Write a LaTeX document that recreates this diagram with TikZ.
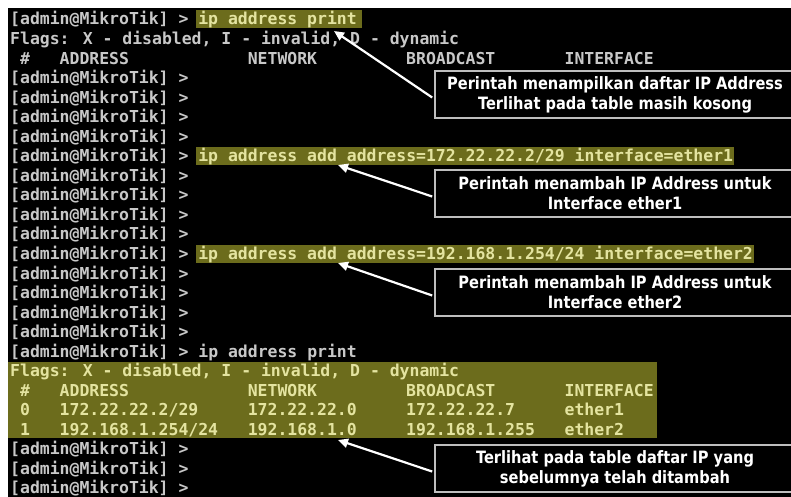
\documentclass[tikz,border=0pt]{standalone}
\usepackage{fontspec}
\usetikzlibrary{arrows.meta}
\newfontfamily\termfont{DejaVu Sans Mono}
\newfontfamily\notefont[FakeStretch=0.86]{DejaVu Sans}

\definecolor{termgrey}{RGB}{200,200,200}
\definecolor{hlfill}{RGB}{108,108,28}
\definecolor{hltext}{RGB}{228,228,160}
\definecolor{boxgrey}{RGB}{190,190,190}

% console grid: character width, left margin, baseline of line n
\newcommand\cw{9.9}
\newcommand\xo{10}
\newcommand\lny[1]{(25+(#1-1)*19.54)}
\newcommand\colx[1]{(\xo+#1*\cw)}

% a bare prompt on line #2
\newcommand\promptline[2]{\node[term] (#1) at (\xo,{\lny{#2}}) {[admin@MikroTik] >};}
% one row of the address table: name, line, colour, then the five fields
\newcommand\tablerow[8]{%
  \node[term,text=#3] (#1a) at ({\colx{1}},{\lny{#2}}) {#4};
  \node[term,text=#3] (#1b) at ({\colx{5}},{\lny{#2}}) {#5};
  \node[term,text=#3] (#1c) at ({\colx{24}},{\lny{#2}}) {#6};
  \node[term,text=#3] (#1d) at ({\colx{40}},{\lny{#2}}) {#7};
  \node[term,text=#3] (#1e) at ({\colx{56}},{\lny{#2}}) {#8};}

\tikzset{
  term/.style={anchor=base west, inner sep=0pt, text=termgrey,
    font={\termfont\bfseries\fontsize{16.45}{19.54}\selectfont}},
  hlcmd/.style={term, text=hltext},
  note/.style={draw=boxgrey, line width=1.6pt, fill=black, text=white,
    align=center, minimum width=360pt, minimum height=47pt, inner sep=0pt,
    font={\notefont\bfseries\fontsize{17}{20}\selectfont}},
  callarrow/.style={draw=white, line width=2.2pt,
    -{Triangle[length=10pt,width=9pt]}}
}

\begin{document}
\begin{tikzpicture}[x=1pt,y=-1pt]
\useasboundingbox (0,0) rectangle (791,497);
\clip (0,0) rectangle (791,497);
\fill[white] (0,0) rectangle (791,497);
\fill[black] (8,8) rectangle (800,500);

% highlighted commands and result table
\fill[hlfill] (196,10) rectangle (362,28);
\fill[hlfill] (196,147) rectangle (734,165);
\fill[hlfill] (196,244.5) rectangle (754,262.5);
\fill[hlfill] (8,361.7) rectangle (657,438.3);

% first listing: empty table
\promptline{l1}{1}
\node[hlcmd] (c1) at ({\colx{19}},{\lny{1}}) {ip address print};
\node[term] (l2) at (\xo,{\lny{2}}) {Flags: X - disabled, I - invalid, D - dynamic};
\tablerow{h1}{3}{termgrey}{\#}{ADDRESS}{NETWORK}{BROADCAST}{INTERFACE}
\promptline{l4}{4}
\promptline{l5}{5}
\promptline{l6}{6}
\promptline{l7}{7}

% address for ether1
\promptline{l8}{8}
\node[hlcmd] (c8) at ({\colx{19}},{\lny{8}}) {ip address add address=172.22.22.2/29 interface=ether1};
\promptline{l9}{9}
\promptline{l10}{10}
\promptline{l11}{11}
\promptline{l12}{12}

% address for ether2
\promptline{l13}{13}
\node[hlcmd] (c13) at ({\colx{19}},{\lny{13}}) {ip address add address=192.168.1.254/24 interface=ether2};
\promptline{l14}{14}
\promptline{l15}{15}
\promptline{l16}{16}
\promptline{l17}{17}

% second listing: filled table
\node[term] (l18) at (\xo,{\lny{18}}) {[admin@MikroTik] > ip address print};
\node[hlcmd] (l19) at (\xo,{\lny{19}}) {Flags: X - disabled, I - invalid, D - dynamic};
\tablerow{h2}{20}{hltext}{\#}{ADDRESS}{NETWORK}{BROADCAST}{INTERFACE}
\tablerow{r0}{21}{hltext}{0}{172.22.22.2/29}{172.22.22.0}{172.22.22.7}{ether1}
\tablerow{r1}{22}{hltext}{1}{192.168.1.254/24}{192.168.1.0}{192.168.1.255}{ether2}
\promptline{l23}{23}
\promptline{l24}{24}
\promptline{l25}{25}

% callouts
\node[note] (b1) at (615,94.5) {Perintah menampilkan daftar IP Address\\Terlihat pada table masih kosong};
\node[note] (b2) at (615,193.5) {Perintah menambah IP Address untuk\\Interface ether1};
\node[note] (b3) at (615,292.5) {Perintah menambah IP Address untuk\\Interface ether2};
\node[note] (b4) at (615,468.5) {Terlihat pada table daftar IP yang\\sebelumnya telah ditambah};

\coordinate (t1) at (334,31);
\coordinate (t2) at (338,165);
\coordinate (t3) at (338,263);
\coordinate (t4) at (338,440);

\draw[callarrow] ([xshift=-2pt,yshift=-3pt]b1.west) -- (t1);
\draw[callarrow] ([xshift=-2pt,yshift=-3pt]b2.west) -- (t2);
\draw[callarrow] ([xshift=-2pt,yshift=-3pt]b3.west) -- (t3);
\draw[callarrow] ([xshift=-2pt,yshift=-3pt]b4.west) -- (t4);
\end{tikzpicture}
\end{document}
